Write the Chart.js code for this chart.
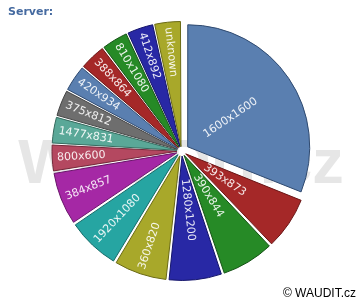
<!DOCTYPE html>
<html lang="en">
<head>
    <meta charset="UTF-8">
    <title>Server</title>
    <script src="https://cdn.jsdelivr.net/npm/chart.js"></script>
    <style>
        body { margin: 0; background: #fff; }
    </style>
</head>
<body>
    <canvas id="serverChart" width="360" height="300"></canvas>

    <script>
        const labels = ['1600x1600', '393x873', '390x844', '1280x1200', '360x820', '1920x1080', '384x857',
            '800x600', '1477x831', '375x812', '420x934', '388x864', '810x1080', '412x892', 'unknown'];
        const values = [9, 2, 2, 2, 2, 2, 2, 1, 1, 1, 1, 1, 1, 1, 1];

        const palette = ['#5a7fb0', '#a52828', '#268a26', '#2828a5', '#a8a82a',
            '#26a5a2', '#a528a5', '#b44860', '#5aa898', '#6e6e6e'];
        const edges = ['#2f4a70', '#6a1515', '#145214', '#15156a', '#6a6a15',
            '#156a68', '#6a156a', '#74283a', '#356a5e', '#444444'];

        const sliceShift = 8;
        const total = values.reduce((a, b) => a + b, 0);

        // chart.js v4 moves an arc by offset/4 * (2 - sin(circumference)),
        // so undo that to get the same shift on every slice
        function arcOffset(c) {
            const i = c.dataIndex;
            const circ = values[i] / total * Math.PI * 2;
            const fix = 1 - Math.sin(Math.min(Math.PI, circ));
            return sliceShift * 4 / (1 + fix);
        }

        // big grey watermark behind the pie + title and footer
        const decor = {
            id: 'decor',
            beforeDatasetsDraw(chart) {
                const ctx = chart.ctx;
                ctx.save();
                ctx.fillStyle = '#e6e6e6';
                ctx.font = 'bold 63px "Liberation Sans", Arial, sans-serif';
                ctx.textAlign = 'center';
                ctx.textBaseline = 'alphabetic';
                ctx.fillText('WAUDIT.cz', 181, 183);

                ctx.fillStyle = '#456aa0';
                ctx.font = 'bold 11px "DejaVu Sans", sans-serif';
                ctx.textAlign = 'left';
                ctx.fillText('Server:', 8, 15);

                ctx.fillStyle = '#000';
                ctx.font = '12px "Liberation Sans", Arial, sans-serif';
                ctx.textAlign = 'right';
                ctx.fillText('\u00a9 WAUDIT.cz', 356, 297);
                ctx.restore();
            }
        };

        // rotated labels inside slices
        const sliceLabels = {
            id: 'sliceLabels',
            afterDatasetsDraw(chart) {
                const ctx = chart.ctx;
                const meta = chart.getDatasetMeta(0);
                ctx.save();
                ctx.font = '11px "DejaVu Sans", sans-serif';
                ctx.fillStyle = 'rgba(255,255,255,0.9)';
                ctx.textBaseline = 'middle';
                ctx.textAlign = 'left';
                meta.data.forEach((arc, i) => {
                    const p = arc.getProps(['x', 'y', 'startAngle', 'endAngle', 'outerRadius']);
                    const mid = (p.startAngle + p.endAngle) / 2;
                    const cx = p.x + Math.cos(mid) * sliceShift;
                    const cy = p.y + Math.sin(mid) * sliceShift;
                    ctx.save();
                    ctx.translate(cx, cy);
                    if (Math.cos(mid) >= 0) {
                        ctx.rotate(mid);
                        ctx.fillText(labels[i], 20, 0);
                    } else {
                        ctx.rotate(mid + Math.PI);
                        ctx.fillText(labels[i], -(p.outerRadius - 5), 0);
                    }
                    ctx.restore();
                });
                ctx.restore();
            }
        };

        const ctx = document.getElementById('serverChart').getContext('2d');
        new Chart(ctx, {
            type: 'pie',
            data: {
                labels: labels,
                datasets: [{
                    data: values,
                    backgroundColor: values.map((v, i) => palette[i % palette.length]),
                    borderColor: values.map((v, i) => edges[i % edges.length]),
                    borderWidth: 1,
                    offset: arcOffset,
                    hoverOffset: arcOffset
                }]
            },
            options: {
                responsive: false,
                animation: false,
                radius: 121.5,
                layout: { padding: { left: 3, right: 0, top: 25, bottom: 23 } },
                plugins: {
                    legend: { display: false },
                    tooltip: { enabled: false }
                }
            },
            plugins: [decor, sliceLabels]
        });
    </script>
</body>
</html>
